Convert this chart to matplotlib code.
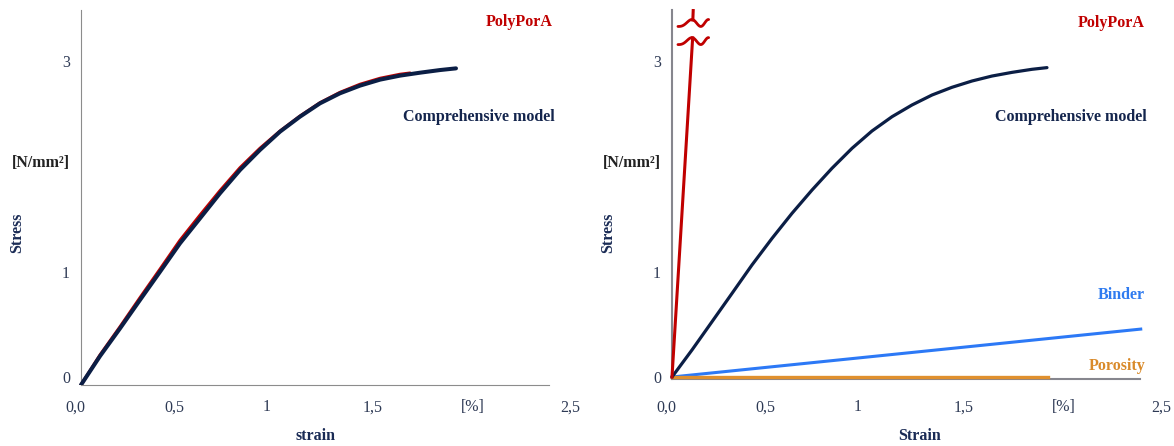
import numpy as np
import matplotlib
matplotlib.use('Agg')
import matplotlib.pyplot as plt

# ---------------- data ----------------
xtick_pos = [-0.03, 0.5, 1.0, 1.57, 2.105, 2.63]
xtick_labels = ['0,0', '0,5', '1', '1,5', '[%]', '2,5']
ytick_pos = [0, 1, 3]
ytick_labels = ['0', '1', '3']

# left panel: measured PolyPorA vs comprehensive model
left_model_strain = [0.0, 0.102, 0.210, 0.317, 0.425, 0.532, 0.640, 0.747, 0.855, 0.962, 1.070,
                     1.177, 1.285, 1.392, 1.500, 1.608, 1.715, 1.823, 1.930, 2.016]
left_model_stress = [-0.075, 0.198, 0.462, 0.731, 1.000, 1.269, 1.507, 1.744, 1.966, 2.156, 2.330,
                     2.472, 2.599, 2.694, 2.767, 2.824, 2.862, 2.890, 2.915, 2.931]
left_poly_strain = [0.0, 0.102, 0.210, 0.317, 0.425, 0.532, 0.640, 0.747, 0.855, 0.962, 1.070,
                    1.177, 1.285, 1.392, 1.500, 1.608, 1.715, 1.769]
left_poly_stress = [-0.075, 0.209, 0.478, 0.753, 1.025, 1.298, 1.538, 1.769, 1.988, 2.172, 2.336,
                    2.478, 2.605, 2.703, 2.780, 2.837, 2.875, 2.887]

# right panel: components
right_model_strain = [0.0, 0.108, 0.215, 0.323, 0.430, 0.538, 0.645, 0.753, 0.860, 0.968, 1.075,
                      1.183, 1.290, 1.398, 1.505, 1.613, 1.720, 1.828, 1.935, 2.016]
right_model_stress = [0.0, 0.258, 0.525, 0.795, 1.064, 1.317, 1.554, 1.776, 1.982, 2.172, 2.336,
                      2.472, 2.583, 2.678, 2.751, 2.811, 2.858, 2.893, 2.922, 2.938]
right_poly_strain = [0.0, 0.111]
right_poly_stress = [0.0, 3.22]
right_poly_top_strain = [0.112, 0.114]
right_poly_top_stress = [3.39, 3.48]
binder_strain = [0.0, 2.52]
binder_stress = [0.0, 0.455]
porosity_strain = [0.0, 2.02]
porosity_stress = [0.0, 0.0]

# ---------------- style ----------------
NAVY = '#0b1e45'
RED = '#c00000'
BLUE = '#2c79f6'
ORANGE = '#e0902e'
TICK_C = '#2e3a55'
SERIF = ['Liberation Serif', 'DejaVu Serif']
FS = 11.5

W, H = 1174, 446
fig = plt.figure(figsize=(W / 100, H / 100), dpi=100)

PXX = 186.0   # pixels per strain unit
PXY = 105.3   # pixels per stress unit
Y0 = 377.0    # pixel row of stress 0
XLIM = (-0.06, 2.7)


def make_ax(origin_x, ymin, ymax, spine_c, spine_w, xpad):
    left_px = origin_x + XLIM[0] * PXX
    width_px = (XLIM[1] - XLIM[0]) * PXX
    bot_px = Y0 - ymin * PXY
    top_px = Y0 - ymax * PXY
    ax = fig.add_axes([left_px / W, 1 - bot_px / H, width_px / W, (bot_px - top_px) / H])
    ax.set_xlim(*XLIM)
    ax.set_ylim(ymin, ymax)
    for s in ['top', 'right']:
        ax.spines[s].set_visible(False)
    ax.spines['left'].set_position(('data', 0))
    ax.spines['bottom'].set_bounds(0, 2.515)
    for s in ['left', 'bottom']:
        ax.spines[s].set_color(spine_c)
        ax.spines[s].set_linewidth(spine_w)
    ax.patch.set_visible(False)
    ax.set_xticks(xtick_pos)
    ax.set_xticklabels(xtick_labels)
    ax.set_yticks(ytick_pos)
    ax.set_yticklabels(ytick_labels)
    ax.tick_params(axis='both', length=0, labelsize=FS, labelcolor=TICK_C)
    ax.tick_params(axis='x', pad=xpad)
    ax.tick_params(axis='y', pad=8)
    for lab in ax.get_xticklabels() + ax.get_yticklabels():
        lab.set_family(SERIF)
    return ax


def ftext(px, py, s, color, ha='center', va='center', rot=0, weight='bold'):
    fig.text(px / W, 1 - py / H, s, color=color, ha=ha, va=va, rotation=rot,
             fontsize=FS, fontweight=weight, family=SERIF)


# ---------------- left panel ----------------
axL = make_ax(81, -0.075, 3.49, '#8c8c8c', 0.8, 10.5)
axL.plot(left_poly_strain, left_poly_stress, color=RED, lw=2.2, solid_capstyle='round',
         solid_joinstyle='round', zorder=3)
axL.plot(left_model_strain, left_model_stress, color=NAVY, lw=2.9, solid_capstyle='round',
         solid_joinstyle='round', zorder=4)

ftext(553, 22.3, 'PolyPorA', RED, ha='right')
ftext(555, 116.7, 'Comprehensive model', '#14254d', ha='right')
ftext(41.3, 162.7, '[N/mm²]', '#222222')
ftext(16.7, 232.5, 'Stress', '#1a2b55', rot=90)
ftext(316, 436, 'strain', '#1a2b55')

# ---------------- right panel ----------------
axR = make_ax(672, -0.015, 3.49, '#86868e', 1.5, 15)
axR.plot(binder_strain, binder_stress, color=BLUE, lw=2.2, zorder=3)
axR.plot(porosity_strain, porosity_stress, color=ORANGE, lw=2.4, zorder=4, clip_on=False)
axR.plot(right_model_strain, right_model_stress, color=NAVY, lw=2.3, solid_capstyle='round',
         solid_joinstyle='round', zorder=5)
axR.plot(right_poly_strain, right_poly_stress, color=RED, lw=2.2, zorder=6, clip_on=False)
axR.plot(right_poly_top_strain, right_poly_top_stress, color=RED, lw=2.2, zorder=6, clip_on=False)

# break marks (decorative tildes)
t = np.linspace(0, 1, 60)
bx = 0.032 + 0.165 * t
for cy in (3.19, 3.362):
    by = cy - 0.033 * np.cos(2 * np.pi * t ** 1.4 / 0.66)
    axR.plot(bx, by, color=RED, lw=2.0, clip_on=False, zorder=7, solid_capstyle='round')

ftext(1145, 23.3, 'PolyPorA', RED, ha='right')
ftext(1147, 116.7, 'Comprehensive model', '#14254d', ha='right')
ftext(1145, 295, 'Binder', '#2f7bf0', ha='right')
ftext(1145, 366, 'Porosity', '#d98a2a', ha='right')
ftext(632, 163, '[N/mm²]', '#222222')
ftext(608, 232.5, 'Stress', '#1a2b55', rot=90)
ftext(919.5, 436, 'Strain', '#1a2b55')

fig.savefig('out.png', dpi=100)
